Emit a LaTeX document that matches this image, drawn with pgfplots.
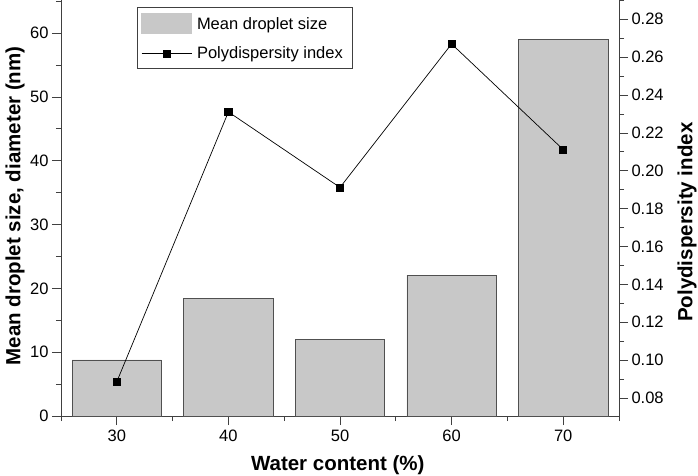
\documentclass[border=0pt]{standalone}
\usepackage{fontspec}
\setmainfont{Liberation Sans}
\usepackage{pgfplots}
\pgfplotsset{compat=1.18}
\usepackage{pgfplotstable}
\definecolor{barfill}{HTML}{C8C8C8}
\definecolor{bardraw}{HTML}{505050}
\definecolor{axcol}{HTML}{404040}
\pgfplotsset{
  mylinelegend/.style={legend image code/.code={\draw[##1, mark repeat=2, mark phase=2] plot coordinates {(0pt,0pt) (25pt,0pt) (50pt,0pt)};}},
  mybarlegend/.style={legend image code/.code={\fill[barfill] (0pt,-9pt) rectangle (50pt,11pt);}},
}
\pgfplotstableread{
x size pdi
30 8.8 0.0886
40 18.4 0.2311
50 12.0 0.1912
60 22.1 0.2670
70 59.0 0.2112
}\datatable
\begin{document}
\begin{tikzpicture}
\pgfplotsset{
  every axis/.append style={
    scale only axis, width=558pt, height=416pt,
    xmin=25, xmax=75,
    tick align=outside,
    major tick length=9pt, minor tick length=5pt,
    every tick/.style={axcol, line width=0.8pt},
    axis line style={axcol, line width=0.9pt},
    tick label style={font=\fontsize{16.5}{18}\selectfont},
    label style={font=\bfseries\fontsize{20.5}{23}\selectfont},
    /pgf/number format/assume math mode=true,
  }
}
\begin{axis}[
  axis x line*=bottom, axis y line*=left,
  ymin=0, ymax=65.2,
  xtick={30,40,50,60,70},
  minor xtick={25,35,45,55,65,75},
  ytick={0,10,...,60},
  minor ytick={5,15,...,65},
  xlabel={Water content (\%)},
  ylabel={Mean droplet size, diameter (nm)},
  xlabel style={at={(axis description cs:0.496,-0.118)}, anchor=center},
  ylabel style={at={(axis description cs:-0.0824,0.505)}, anchor=center},
  xticklabel style={yshift=-1pt},
]
\addplot[ybar, bar width=8, fill=barfill, draw=bardraw, line width=0.6pt] table[x=x, y=size] {\datatable};
\end{axis}
\begin{axis}[
  axis x line=none, axis y line*=right,
  ymin=0.0705, ymax=0.2902,
  ytick={0.08,0.10,...,0.281},
  minor ytick={0.09,0.11,...,0.291},
  yticklabel style={/pgf/number format/.cd, fixed, fixed zerofill, precision=2},
  ylabel={Polydispersity index},
  ylabel style={at={(axis description cs:1.122,0.466)}, anchor=center, rotate=0},
  legend style={at={(axis description cs:0.1362,0.983)}, anchor=north west,
    draw=axcol, line width=0.6pt, font=\fontsize{16.5}{18}\selectfont,
    inner xsep=4pt, inner ysep=6pt, row sep=11pt,
    nodes={inner xsep=5pt, inner ysep=2pt}},
  legend cell align=left,
]
\addlegendimage{mybarlegend}
\addlegendentry{Mean droplet size}
\addplot[black, line width=0.7pt, mark=square*, mark size=3.6pt, mylinelegend]
  table[x=x, y=pdi] {\datatable};
\addlegendentry{Polydispersity index}
\end{axis}
\pgfresetboundingbox
\path[use as bounding box] (-61pt,-59pt) rectangle (637pt,416pt);
\end{tikzpicture}
\end{document}
